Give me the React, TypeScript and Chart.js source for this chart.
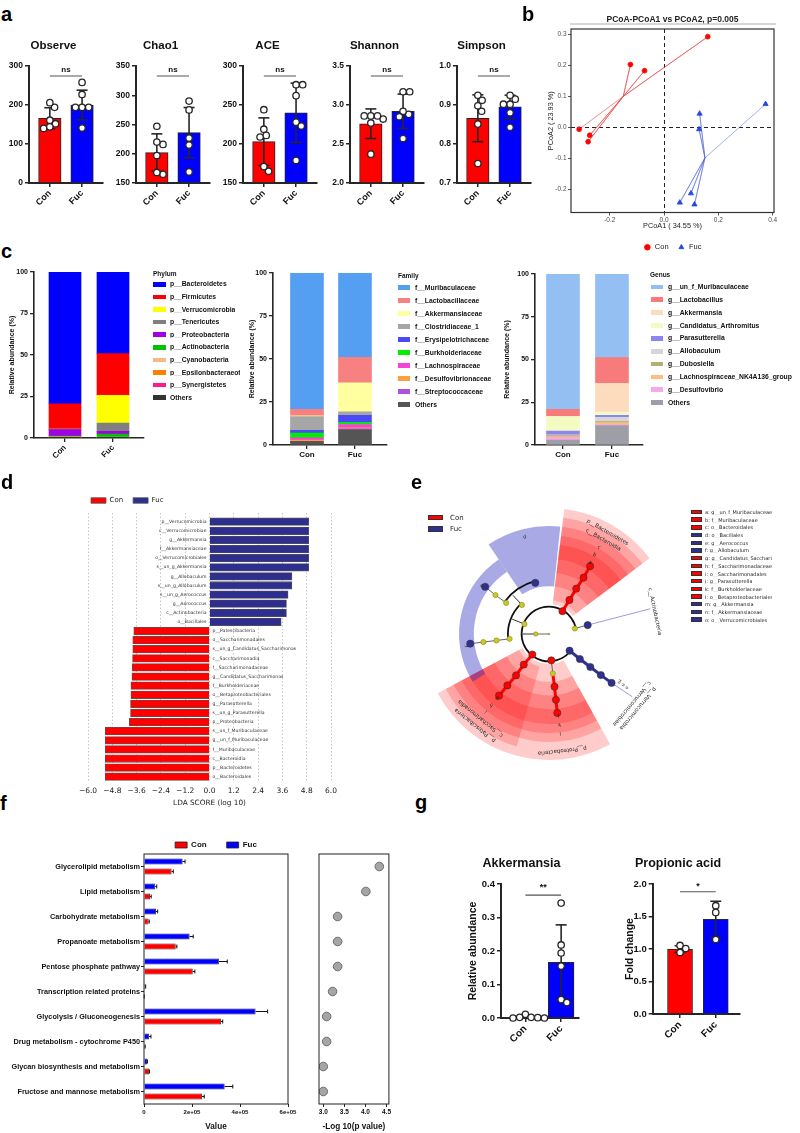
import React, { useEffect, useRef } from 'react';
import { Chart, registerables } from 'chart.js';

Chart.register(...registerables);

const SANS = "'Liberation Sans', Arial, sans-serif";
const DJ = "'DejaVu Sans', sans-serif";
const RED = '#ff0000';
const BLUE = '#0000ff';
const NAVY = '#2e3192';
const DARK = '#262626';

// ================= DATA =================
const groups = ['Con', 'Fuc'];

// a: alpha diversity
const alphaTitles = ['Observe', 'Chao1', 'ACE', 'Shannon', 'Simpson'];
const alphaTicks = [[0, 100, 200, 300], [150, 200, 250, 300, 350], [150, 200, 250, 300], [2.0, 2.5, 3.0, 3.5], [0.7, 0.8, 0.9, 1.0]];
const alphaDecimals = [0, 0, 0, 1, 1];
const observeCon = [194, 206, 161, 152, 140, 144];
const observeFuc = [258, 227, 194, 194, 194, 141];
const chao1Con = [247, 216, 220, 197, 165, 168];
const chao1Fuc = [290, 275, 227, 215, 169];
const aceCon = [244, 219, 211, 209, 165, 171];
const aceFuc = [276, 276, 262, 228, 223, 179];
const shannonCon = [2.82, 2.86, 2.86, 2.86, 2.77, 2.37];
const shannonFuc = [3.17, 3.17, 2.88, 2.92, 2.85, 2.57];
const simpsonCon = [0.925, 0.912, 0.898, 0.884, 0.851, 0.75];
const simpsonFuc = [0.915, 0.925, 0.902, 0.902, 0.88, 0.843];
const alphaMeans = [[166, 200], [202, 236], [203, 240], [2.76, 2.92], [0.866, 0.895]];
const alphaSD = [[27, 38], [32, 43], [30.5, 38], [0.19, 0.22], [0.06, 0.03]];
const alphaSig = ['ns', 'ns', 'ns', 'ns', 'ns'];

// b: PCoA
const pcoaConX = [-0.313, -0.274, -0.28, -0.124, -0.072, 0.161];
const pcoaConY = [-0.0065, -0.026, -0.047, 0.203, 0.183, 0.293];
const pcoaFucX = [0.374, 0.131, 0.129, 0.058, 0.099, 0.112];
const pcoaFucY = [0.075, 0.044, -0.0065, -0.244, -0.214, -0.25];
const pcoaXTicks = [-0.2, 0, 0.2, 0.4];
const pcoaYTicks = [-0.2, -0.1, 0, 0.1, 0.2, 0.3];

// c: composition
const abundTicks = [0, 25, 50, 75, 100];
const phylumNames = ['p__Bacteroidetes', 'p__Firmicutes', 'p__Verrucomicrobia', 'p__Tenericutes', 'p__Proteobacteria', 'p__Actinobacteria', 'p__Cyanobacteria', 'p__Epsilonbacteraeota', 'p__Synergistetes', 'Others'];
const phylumCon = [79.45, 15.2, 0.05, 0.3, 3.8, 0.5, 0.2, 0.3, 0.1, 0.1];
const phylumFuc = [49.2, 25.1, 16.7, 5.0, 1.6, 1.9, 0.1, 0.2, 0.1, 0.1];
const phylumColors = ['#0000ff', '#ff0000', '#ffff00', '#808080', '#a000e8', '#00c000', '#f5b889', '#ff8000', '#ff1a8c', '#333333'];
const familyNames = ['f__Muribaculaceae', 'f__Lactobacillaceae', 'f__Akkermansiaceae', 'f__Clostridiaceae_1', 'f__Erysipelotrichaceae', 'f__Burkholderiaceae', 'f__Lachnospiraceae', 'f__Desulfovibrionaceae', 'f__Streptococcaceae', 'Others'];
const familyCon = [79.2, 3.9, 0.4, 8.0, 1.5, 2.9, 1.2, 0.8, 0.0, 2.1];
const familyFuc = [49.0, 14.8, 16.9, 2.1, 4.1, 1.2, 1.9, 0.6, 0.6, 8.8];
const familyColors = ['#559ff2', '#f78080', '#ffffa0', '#a6a6a6', '#4b4bf5', '#00ee00', '#f542d7', '#ffa040', '#b050e0', '#555555'];
const genusNames = ['g__un_f_Muribaculaceae', 'g__Lactobacillus', 'g__Akkermansia', 'g__Candidatus_Arthromitus', 'g__Parasutterella', 'g__Allobaculum', 'g__Dubosiella', 'g__Lachnospiraceae_NK4A136_group', 'g__Desulfovibrio', 'Others'];
const genusCon = [79.1, 4.1, 0.2, 8.4, 2.3, 0.4, 0.6, 0.6, 1.4, 2.9];
const genusFuc = [48.9, 15.0, 16.8, 1.9, 1.2, 2.5, 0.6, 1.2, 0.6, 11.3];
const genusColors = ['#93bff3', '#f77b7b', '#fddcbd', '#f3fbc3', '#8c87f0', '#d6d6d6', '#b9ad74', '#fcbf7e', '#f6a8e8', '#9e9ea6'];

// d: LEfSe LDA
const ldaFeatures = ['p__Verrucomicrobia', 'c__Verrucomicrobiae', 'g__Akkermansia', 'f__Akkermansiaceae', 'o__Verrucomicrobiales', 's__un_g_Akkermansia', 'g__Allobaculum', 's__un_g_Allobaculum', 's__un_g_Aerococcus', 'g__Aerococcus', 'c__Actinobacteria', 'o__Bacillales', 'p__Patescibacteria', 'o__Saccharimonadales', 's__un_g_Candidatus_Saccharimonas', 'c__Saccharimonadia', 'f__Saccharimonadaceae', 'g__Candidatus_Saccharimonas', 'f__Burkholderiaceae', 'o__Betaproteobacteriales', 'g__Parasutterella', 's__un_g_Parasutterella', 'p__Proteobacteria', 's__un_f_Muribaculaceae', 'g__un_f_Muribaculaceae', 'f__Muribaculaceae', 'c__Bacteroidia', 'p__Bacteroidetes', 'o__Bacteroidales'];
const ldaScores = [4.9, 4.9, 4.9, 4.9, 4.9, 4.9, 4.07, 4.07, 3.88, 3.8, 3.8, 3.54, -3.74, -3.79, -3.79, -3.8, -3.82, -3.83, -3.88, -3.88, -3.9, -3.9, -3.96, -5.15, -5.15, -5.15, -5.15, -5.15, -5.15];
const ldaTicks = [-6, -4.8, -3.6, -2.4, -1.2, 0, 1.2, 2.4, 3.6, 4.8, 6];

// e: cladogram
const cladeNames = ['root', 'k__Bacteria', 'p__Bacteroidetes', 'p__Actinobacteria', 'p__Verrucomicrobia', 'p__Proteobacteria', 'p__Patescibacteria', 'p__Firmicutes', 'c__Bacteroidia', 'c__Actinobacteria', 'c__Verrucomicrobiae', 'c__Gammaproteobacteria', 'c__Saccharimonadia', 'c__Bacilli', 'c__Erysipelotrichia', 'o__Bacteroidales', 'o__Verrucomicrobiales', 'o__Betaproteobacteriales', 'o__Saccharimonadales', 'o__Bacillales', 'o__Lactobacillales', 'o__Erysipelotrichales', 'f__Muribaculaceae', 'f__Akkermansiaceae', 'f__Burkholderiaceae', 'f__Saccharimonadaceae', 'f__Aerococcaceae', 'f__Erysipelotrichaceae', 'g__un_f_Muribaculaceae', 'g__Akkermansia', 'g__Parasutterella', 'g__Candidatus_Saccharimonas', 'g__Aerococcus', 'g__Allobaculum'];
const cladeLevel = [0, 1, 2, 2, 2, 2, 2, 2, 3, 3, 3, 3, 3, 3, 3, 4, 4, 4, 4, 4, 4, 4, 5, 5, 5, 5, 5, 5, 6, 6, 6, 6, 6, 6];
const cladeAngle = [0, 180, 59.5, 12, 321, 275, 231, 158, 59, 13, 321, 275.5, 230.5, 133, 187, 59, 321.4, 276, 231.5, 105, 144, 187, 58.5, 321.6, 276, 231, 144, 187, 58.8, 322, 276, 231, 143.5, 187];
const cladeParent = [-1, 0, 1, 1, 1, 1, 1, 1, 2, 3, 4, 5, 6, 7, 7, 8, 10, 11, 12, 13, 13, 14, 15, 16, 17, 18, 20, 21, 22, 23, 24, 25, 26, 27];
const cladeGroup = ['', '', 'Con', '', 'Fuc', 'Con', 'Con', '', 'Con', 'Fuc', 'Fuc', '', 'Con', '', '', 'Con', 'Fuc', 'Con', 'Con', 'Fuc', '', '', 'Con', 'Fuc', 'Con', 'Con', '', '', 'Con', 'Fuc', 'Con', 'Con', 'Fuc', 'Fuc'];
const cladeShadeFrom = [NaN, NaN, 37, NaN, NaN, 254, 208, NaN, 37, NaN, NaN, NaN, 208, NaN, NaN, 37, NaN, 254, 208, 84, NaN, NaN, 37, NaN, 254, 208, NaN, NaN, 37, NaN, 254, 208, 124, 165];
const cladeShadeTo = [NaN, NaN, 83, NaN, NaN, 299, 254, NaN, 83, NaN, NaN, NaN, 254, NaN, NaN, 83, NaN, 299, 254, 124, NaN, NaN, 83, NaN, 299, 254, NaN, NaN, 83, NaN, 299, 254, 165, 212];
const cladeLetterNodes = [28, 22, 15, 19, 32, 33, 31, 25, 18, 30, 24, 17, 29, 23, 16];
const cladeLetters = 'abcdefghijklmno'.split('');

// f: PICRUSt pathways
const pathways = ['Glycerolipid metabolism', 'Lipid metabolism', 'Carbohydrate metabolism', 'Propanoate metabolism', 'Pentose phosphate pathway', 'Transcription related proteins', 'Glycolysis / Gluconeogenesis', 'Drug metabolism - cytochrome P450', 'Glycan biosynthesis and metabolism', 'Fructose and mannose metabolism'];
const pathwayFuc = [161000, 47000, 50000, 190000, 312000, 6000, 465000, 21000, 12500, 336000];
const pathwayFucErr = [10000, 6000, 7000, 15000, 35000, 1000, 50000, 8000, 2000, 34000];
const pathwayCon = [115000, 25000, 19000, 132000, 203000, 500, 321000, 4000, 21000, 242000];
const pathwayConErr = [7000, 5000, 3000, 5000, 9000, 300, 7000, 1000, 2000, 9000];
const pathwayLogP = [4.33, 4.01, 3.34, 3.34, 3.34, 3.22, 3.08, 3.08, 3.0, 3.0];
const valueTicks = [0, 200000, 400000, 600000];
const logPTicks = [3.0, 3.5, 4.0, 4.5];

// g: Akkermansia & propionic acid
const akkCon = [0.001, 0, 0, 0.011, 0.002, 0.002];
const akkFuc = [0.343, 0.218, 0.194, 0.155, 0.055, 0.046];
const akkMean = [0.003, 0.166];
const akkSD = [0.004, 0.112];
const akkTicks = [0, 0.1, 0.2, 0.3, 0.4];
const propCon = [1.055, 0.946, 1.008];
const propFuc = [1.666, 1.563, 1.147];
const propMean = [1.0, 1.455];
const propSD = [0.05, 0.28];
const propTicks = [0, 0.5, 1.0, 1.5, 2.0];

// ================= HELPERS =================
function swarm(vals: number[], yPx: number, xPx: number, d: number): number[] {
  const placed: number[][] = [];
  const out = vals.map(() => 0);
  const order = vals.map((_, i) => i).sort((a, b) => vals[b] - vals[a]);
  for (const i of order) {
    const y = vals[i] * yPx;
    for (let k = 0; k < 400; k++) {
      const m = Math.ceil(k / 2) * 0.5;
      const off = k % 2 === 1 ? m : -m;
      if (placed.every(p => Math.hypot(p[0] - off, p[1] - y) >= d)) {
        placed.push([off, y]);
        out[i] = off / xPx;
        break;
      }
    }
  }
  return out;
}

function textPlugin(items: any[]) {
  return {
    id: 'textMarks',
    afterDatasetsDraw(chart: any) {
      const ctx = chart.ctx;
      for (const it of items) {
        const xs = chart.scales[it.xAxis || 'x'];
        const ys = chart.scales[it.yAxis || 'y'];
        const px = xs.getPixelForValue(it.x) + (it.dx || 0);
        const py = ys.getPixelForValue(it.y) + (it.dy || 0);
        ctx.save();
        ctx.translate(px, py);
        if (it.rot) ctx.rotate((it.rot * Math.PI) / 180);
        ctx.font = it.font;
        ctx.fillStyle = it.color || '#111';
        ctx.textAlign = it.align || 'center';
        ctx.textBaseline = 'middle';
        ctx.fillText(it.text, 0, 0);
        ctx.restore();
      }
    },
  };
}

function framePlugin(color: string, lw: number) {
  return {
    id: 'frame',
    afterDraw(chart: any) {
      const { ctx, chartArea: a } = chart;
      ctx.save();
      ctx.strokeStyle = color;
      ctx.lineWidth = lw;
      ctx.strokeRect(a.left, a.top, a.right - a.left, a.bottom - a.top);
      ctx.restore();
    },
  };
}

function stripPlugin() {
  return {
    id: 'strip',
    afterDraw(chart: any) {
      const { ctx, chartArea: a } = chart;
      ctx.save();
      ctx.strokeStyle = '#b0b0b0';
      ctx.lineWidth = 1;
      ctx.beginPath();
      ctx.moveTo(a.left - 1, a.top - 5);
      ctx.lineTo(a.right + 2, a.top - 5);
      ctx.stroke();
      ctx.restore();
    },
  };
}

function hErrPlugin(errs: number[][]) {
  return {
    id: 'herr',
    afterDatasetsDraw(chart: any) {
      const ctx = chart.ctx;
      const xs = chart.scales.x;
      chart.data.datasets.forEach((ds: any, di: number) => {
        const meta = chart.getDatasetMeta(di);
        meta.data.forEach((bar: any, i: number) => {
          const v = ds.data[i];
          const x0 = xs.getPixelForValue(v);
          const x1 = xs.getPixelForValue(v + errs[di][i]);
          const y = bar.y;
          ctx.save();
          ctx.strokeStyle = '#111';
          ctx.lineWidth = 1;
          ctx.beginPath();
          ctx.moveTo(x0, y);
          ctx.lineTo(x1, y);
          ctx.moveTo(x1, y - 2);
          ctx.lineTo(x1, y + 2);
          ctx.stroke();
          ctx.restore();
        });
      });
    },
  };
}

const baseOpts = () => ({ responsive: false, animation: false, events: [] as any[] });
const noLegend = { legend: { display: false }, tooltip: { enabled: false } };

function ChartCanvas({ box, make }: any) {
  const ref = useRef<HTMLCanvasElement>(null);
  useEffect(() => {
    const chart = new Chart(ref.current as HTMLCanvasElement, make());
    return () => chart.destroy();
  }, []);
  return (
    <canvas
      ref={ref}
      width={box[2]}
      height={box[3]}
      style={{ position: 'absolute', left: box[0], top: box[1], width: box[2], height: box[3] }}
    />
  );
}

function Txt({ x, y, size, bold, family, color, children, maxW, anchor }: any) {
  return (
    <div
      style={{
        position: 'absolute',
        left: x,
        top: y,
        transform: `translate(${anchor === 'center' ? '-50%' : '0'}, -50%)`,
        fontSize: size,
        fontWeight: bold ? 700 : 400,
        fontFamily: family || SANS,
        color: color || '#111',
        whiteSpace: 'nowrap',
        lineHeight: 1,
        maxWidth: maxW,
        overflow: maxW ? 'hidden' : 'visible',
      }}
    >
      {children}
    </div>
  );
}

function PanelLetter({ x, y, ch }: any) {
  return (
    <div style={{ position: 'absolute', left: x, top: y, fontSize: 20, fontWeight: 700, fontFamily: SANS, lineHeight: 1, color: '#000' }}>{ch}</div>
  );
}

// ================= CONFIG BUILDERS =================
function dotBarConfig(s: any) {
  const yMin = s.ticks[0];
  const yMax = s.ticks[s.ticks.length - 1];
  const yPx = s.plotH / (yMax - yMin);
  const jc = swarm(s.con, yPx, s.pxPerX, 6.6);
  const jf = swarm(s.fuc, yPx, s.pxPerX, 6.6);
  const pts = [
    ...s.con.map((v: number, i: number) => ({ x: jc[i], y: v })),
    ...s.fuc.map((v: number, i: number) => ({ x: 1 + jf[i], y: v })),
  ];
  const ly = yMin + s.sigY * (yMax - yMin);
  const ty = yMin + s.sigTextY * (yMax - yMin);
  const tickFont = { family: SANS, size: s.tickSize, weight: 'bold' };
  const grid = { display: true, drawOnChartArea: false, drawTicks: true, tickLength: 4, color: DARK, lineWidth: 1.5, offset: false };
  const border = { display: true, color: DARK, width: 2 };
  return {
    type: 'bar',
    data: {
      datasets: [
        { type: 'scatter', data: pts, pointRadius: 3.2, pointBackgroundColor: '#ffffff', pointBorderColor: DARK, pointBorderWidth: 1.3, order: 0, clip: false },
        ...[0, 1].map(g => ({
          type: 'line',
          data: [{ x: g, y: s.means[g] - s.sds[g] }, { x: g, y: s.means[g] + s.sds[g] }],
          borderColor: DARK, borderWidth: 1.6, pointStyle: 'line', pointRadius: 5.5, pointBorderWidth: 1.6,
          pointBorderColor: DARK, pointBackgroundColor: DARK, order: 1,
        })),
        { type: 'line', data: [{ x: 0, y: ly }, { x: 1, y: ly }], borderColor: '#555', borderWidth: 1.1, pointRadius: 0, order: 1, clip: false },
        {
          type: 'bar', data: [{ x: 0, y: s.means[0] }, { x: 1, y: s.means[1] }], backgroundColor: [RED, BLUE],
          borderColor: DARK, borderWidth: 1, barThickness: s.barW, base: yMin, order: 2,
        },
      ],
    },
    options: {
      ...baseOpts(),
      layout: { padding: { left: 0, right: s.padR, top: 0, bottom: 0 } },
      plugins: {
        ...noLegend,
        title: {
          display: true, text: s.title, color: '#111',
          font: { family: SANS, size: s.titleSize, weight: 'bold', lineHeight: 1.2 },
          padding: { top: s.titlePad[0], bottom: s.titlePad[1] },
        },
      },
      scales: {
        x: {
          type: 'linear', min: s.xMin, max: s.xMax, offset: false,
          afterBuildTicks: (a: any) => { a.ticks = [{ value: 0 }, { value: 1 }]; },
          afterFit: (a: any) => { a.height = s.xH; },
          ticks: { callback: (v: any) => groups[v], font: { family: SANS, size: s.xSize, weight: 'bold' }, color: '#111', maxRotation: 45, minRotation: 45, autoSkip: false, padding: 1 },
          grid, border,
        },
        y: {
          type: 'linear', min: yMin, max: yMax,
          afterBuildTicks: (a: any) => { a.ticks = s.ticks.map((v: number) => ({ value: v })); },
          afterFit: (a: any) => { a.width = s.yW; },
          ticks: { callback: (v: any) => Number(v).toFixed(s.dec), font: tickFont, color: '#111', padding: 2 },
          grid, border,
          title: s.yTitle
            ? { display: true, text: s.yTitle, color: '#111', font: { family: SANS, size: s.yTitleSize, weight: 'bold', lineHeight: 1.2 }, padding: { top: s.yTitlePad, bottom: 0 } }
            : { display: false },
        },
      },
    },
    plugins: [textPlugin([{ x: 0.5, y: ty, text: s.sig, font: `bold ${s.sigSize}px ${SANS}` }])],
  };
}

function stackConfig(p: any) {
  const datasets = p.names
    .map((n: string, i: number) => ({
      type: 'bar', label: n, data: [{ x: 0, y: p.con[i] }, { x: 1, y: p.fuc[i] }],
      backgroundColor: p.colors[i], borderWidth: 0, barThickness: p.barW,
    }))
    .reverse();
  const grid = { display: true, drawOnChartArea: false, drawTicks: true, tickLength: 4, color: DARK, lineWidth: 1.3, offset: false };
  const border = { display: true, color: DARK, width: 1.6 };
  return {
    type: 'bar',
    data: { datasets },
    options: {
      ...baseOpts(),
      layout: { padding: { left: 4, top: 10, right: 2, bottom: 0 } },
      plugins: { ...noLegend },
      scales: {
        x: {
          type: 'linear', stacked: true, min: p.xMin, max: p.xMax, offset: false,
          afterBuildTicks: (a: any) => { a.ticks = [{ value: 0 }, { value: 1 }]; },
          afterFit: (a: any) => { a.height = p.xH; },
          ticks: { callback: (v: any) => groups[v], font: { family: SANS, size: 8, weight: 'bold' }, color: '#111', maxRotation: p.rot, minRotation: p.rot, autoSkip: false, padding: 1 },
          grid, border,
        },
        y: {
          type: 'linear', stacked: true, min: 0, max: 100,
          afterBuildTicks: (a: any) => { a.ticks = abundTicks.map(v => ({ value: v })); },
          afterFit: (a: any) => { a.width = p.yW; },
          ticks: { font: { family: SANS, size: 7, weight: 'bold' }, color: '#111', padding: 2 },
          grid, border,
          title: { display: true, text: 'Relative abundance (%)', color: '#111', font: { family: SANS, size: 7, weight: 'bold', lineHeight: 1.2 }, padding: { top: 4, bottom: 0 } },
        },
      },
    },
  };
}

function pcoaConfig() {
  const mean = (a: number[]) => a.reduce((s, v) => s + v, 0) / a.length;
  const star = (xs: number[], ys: number[]) => {
    const c = { x: mean(xs), y: mean(ys) };
    const out: any[] = [];
    xs.forEach((x, i) => { out.push({ x, y: ys[i] }); out.push(c); });
    return out;
  };
  const tickFont = { family: SANS, size: 6.5 };
  const gridCfg = {
    color: (ctx: any) => (ctx.tick && ctx.tick.value === 0 ? '#222' : 'rgba(0,0,0,0)'),
    tickColor: '#555', tickLength: 3, lineWidth: 1, drawOnChartArea: true,
  };
  return {
    type: 'scatter',
    data: {
      datasets: [
        {
          label: 'Con', data: star(pcoaConX, pcoaConY), showLine: true, borderColor: 'rgba(228,70,70,0.75)', borderWidth: 0.8,
          pointRadius: (ctx: any) => (ctx.dataIndex % 2 === 0 ? 2.4 : 0), pointStyle: 'circle',
          pointBackgroundColor: RED, pointBorderColor: RED, backgroundColor: RED,
        },
        {
          label: 'Fuc', data: star(pcoaFucX, pcoaFucY), showLine: true, borderColor: 'rgba(80,100,215,0.65)', borderWidth: 0.8,
          pointRadius: (ctx: any) => (ctx.dataIndex % 2 === 0 ? 3 : 0), pointStyle: 'triangle',
          pointBackgroundColor: '#2446e0', pointBorderColor: '#2446e0', backgroundColor: '#2446e0',
        },
      ],
    },
    options: {
      ...baseOpts(),
      layout: { padding: 0 },
      plugins: {
        tooltip: { enabled: false },
        title: { display: true, text: 'PCoA-PCoA1 vs PCoA2, p=0.005', color: '#222', font: { family: SANS, size: 8.5, lineHeight: 1.2 }, padding: { top: 8.9, bottom: 3.9 } },
        legend: { display: true, position: 'bottom', labels: { usePointStyle: true, boxHeight: 4, padding: 9, color: '#222', font: { family: SANS, size: 7.5 } } },
      },
      scales: {
        x: {
          type: 'linear', min: -0.343, max: 0.405,
          afterBuildTicks: (a: any) => { a.ticks = pcoaXTicks.map(v => ({ value: v })); },
          afterFit: (a: any) => { a.height = 22; },
          ticks: { callback: (v: any) => Number(v).toFixed(1), font: tickFont, color: '#4d4d4d', padding: 1, maxRotation: 0 },
          grid: gridCfg, border: { display: false, dash: [4, 3] },
          title: { display: true, text: 'PCoA1 ( 34.55 %)', color: '#222', font: { family: SANS, size: 7.3, lineHeight: 1.2 }, padding: { top: 0, bottom: 4.6 } },
        },
        y: {
          type: 'linear', min: -0.276, max: 0.318,
          afterBuildTicks: (a: any) => { a.ticks = pcoaYTicks.map(v => ({ value: v })); },
          afterFit: (a: any) => { a.width = 43; },
          ticks: { callback: (v: any) => Number(v).toFixed(1), font: tickFont, color: '#4d4d4d', padding: 1.5 },
          grid: gridCfg, border: { display: false, dash: [4, 3] },
          title: { display: true, text: 'PCoA2 ( 23.93 %)', color: '#222', font: { family: SANS, size: 7.3, lineHeight: 1.2 }, padding: { top: 18.7, bottom: 0 } },
        },
        y2: {
          type: 'linear', position: 'right', display: true,
          afterFit: (a: any) => { a.width = 43; },
          ticks: { display: false }, grid: { display: false }, border: { display: false },
        },
      },
    },
    plugins: [framePlugin('#333', 1.2), stripPlugin()],
  };
}

function ldaConfig() {
  const conData: any[] = [];
  const fucData: any[] = [];
  ldaScores.forEach((v, i) => (v < 0 ? conData : fucData).push({ x: v, y: i }));
  const labels = ldaFeatures.map((f, i) => ({
    x: 0, y: i, dx: ldaScores[i] > 0 ? -3 : 3, text: f, align: ldaScores[i] > 0 ? 'right' : 'left',
    font: `4.6px ${DJ}`, color: '#333',
  }));
  const fmt = (v: number) => (v < 0 ? '\u2212' : '') + Math.abs(v).toFixed(1);
  return {
    type: 'bar',
    data: {
      datasets: [
        { label: 'Con', data: conData, backgroundColor: RED, borderColor: '#555', borderWidth: 0.8, barThickness: 7.6, stack: 's' },
        { label: 'Fuc', data: fucData, backgroundColor: '#2e2e8e', borderColor: '#555', borderWidth: 0.8, barThickness: 7.6, stack: 's' },
      ],
    },
    options: {
      ...baseOpts(),
      indexAxis: 'y',
      layout: { padding: { left: 11, right: 12, top: 0, bottom: 0 } },
      plugins: {
        tooltip: { enabled: false },
        legend: {
          display: true, position: 'top', align: 'start', maxHeight: 26,
          labels: { boxWidth: 15, boxHeight: 5.5, padding: 10, color: '#222', font: { family: DJ, size: 7 } },
        },
      },
      scales: {
        y: {
          type: 'linear', reverse: true, min: -0.96, max: 28.58, stacked: true, offset: false,
          afterFit: (a: any) => { a.width = 7; },
          ticks: { display: false }, grid: { display: false, offset: false }, border: { display: false },
        },
        x: {
          type: 'linear', min: -6, max: 6, stacked: true,
          afterBuildTicks: (a: any) => { a.ticks = ldaTicks.map(v => ({ value: v })); },
          afterFit: (a: any) => { a.height = 28; },
          ticks: { callback: (v: any) => fmt(Number(v)), font: { family: DJ, size: 7.5 }, color: '#222', padding: 5, maxRotation: 0, minRotation: 0, autoSkip: false },
          grid: { display: true, drawOnChartArea: true, drawTicks: false, color: '#b8b8b8', lineWidth: 0.8 },
          border: { display: false, dash: [1.5, 2] },
          title: { display: true, text: 'LDA SCORE (log 10)', color: '#222', font: { family: DJ, size: 7.3, lineHeight: 1.2 }, padding: { top: 0, bottom: 2.6 } },
        },
      },
    },
    plugins: [textPlugin(labels)],
  };
}

// cladogram geometry helpers (style)
const CL_STEP = 13.7;
const clR = (l: number) => l * CL_STEP;
const clShadeInner = (l: number) => Math.max(clR(l) - 7, 30);
const clShadeOuter = (l: number) => 126 - (l - 2) * 9;
const polar = (a: number, r: number) => ({ x: r * Math.cos((a * Math.PI) / 180), y: r * Math.sin((a * Math.PI) / 180) });
const grpColor = (g: string) => (g === 'Con' ? RED : g === 'Fuc' ? NAVY : '#c9c92a');
const grpShade = (g: string) => (g === 'Con' ? 'rgba(255,0,0,0.2)' : 'rgba(40,40,190,0.4)');
const cladeChildren = cladeNames.map((_, i) => cladeParent.map((p, j) => (p === i ? j : -1)).filter(j => j >= 0));

function arcConfig(from: number, to: number, inner: number, outer: number, color: string) {
  const span = to - from;
  return {
    type: 'doughnut',
    data: { datasets: [{ data: [span, 360 - span], backgroundColor: [color, 'rgba(0,0,0,0)'], borderWidth: 0, hoverOffset: 0 }] },
    options: {
      ...baseOpts(),
      rotation: 90 - to, circumference: 360, radius: outer, cutout: `${(inner / outer) * 100}%`,
      layout: { padding: 0 },
      plugins: { ...noLegend },
    },
  };
}

function cladoScatterConfig() {
  const sig = (i: number) => cladeGroup[i] !== '';
  const datasets: any[] = [];
  cladeNames.forEach((_, i) => {
    const ch = cladeChildren[i];
    if (ch.length === 1) {
      const c = ch[0];
      const thick = sig(c) && (sig(i) || cladeChildren[c].length > 0);
      datasets.push({
        type: 'line', data: [polar(cladeAngle[i], clR(cladeLevel[i])), polar(cladeAngle[c], clR(cladeLevel[c]))],
        borderColor: thick ? grpColor(cladeGroup[c]) : '#555', borderWidth: thick ? 3 : 0.9, pointRadius: 0, order: 1,
      });
    } else if (ch.length > 1) {
      datasets.push({
        type: 'line', data: [polar(cladeAngle[i], clR(cladeLevel[i])), polar(cladeAngle[i], clR(cladeLevel[ch[0]]))],
        borderColor: '#333', borderWidth: 1, pointRadius: 0, order: 1,
      });
    }
    if (sig(i) && ch.length === 0 && isNaN(cladeShadeFrom[i])) {
      datasets.push({
        type: 'line', data: [polar(cladeAngle[i], clR(cladeLevel[i])), polar(cladeAngle[i] + 1, 108)],
        borderColor: '#8080dd', borderWidth: 0.8, pointRadius: 0, order: 1,
      });
    }
  });
  const nodeIdx = cladeNames.map((_, i) => i);
  datasets.push({
    type: 'scatter',
    data: nodeIdx.map(i => polar(cladeAngle[i], clR(cladeLevel[i]))),
    pointRadius: nodeIdx.map(i => (cladeLevel[i] === 0 ? 0.8 : cladeLevel[i] === 1 ? 2.2 : sig(i) ? 3.6 : 2.6)),
    pointBackgroundColor: nodeIdx.map(i => grpColor(cladeGroup[i])),
    pointBorderColor: nodeIdx.map(i => (sig(i) ? '#333' : '#8a8a1a')),
    pointBorderWidth: 0.6,
    order: 0,
  });
  const texts: any[] = [];
  nodeIdx.forEach(i => {
    if (!sig(i)) return;
    const lvl = cladeLevel[i];
    const li = cladeLetterNodes.indexOf(i);
    const txt = lvl <= 3 ? cladeNames[i] : li >= 0 ? cladeLetters[li] : '';
    if (!txt) return;
    if (!isNaN(cladeShadeFrom[i])) {
      const a = (cladeShadeFrom[i] + cladeShadeTo[i]) / 2;
      const r = clShadeOuter(lvl) - 4.5;
      texts.push({ ...polar(a, r), text: txt, rot: 90 - a, font: `${lvl <= 3 ? 5.5 : 5}px ${DJ}`, color: '#222' });
    } else {
      const r = lvl <= 3 ? 112 + (3 - lvl) * 8 : 88 + (6 - lvl) * 5;
      const a = cladeAngle[i] + (lvl <= 3 ? -1 : 4);
      texts.push({ ...polar(a, r), text: txt, rot: 90 - a, font: `${lvl <= 3 ? 5.5 : 4.5}px ${DJ}`, color: '#222' });
    }
  });
  return {
    type: 'scatter',
    data: { datasets },
    options: {
      ...baseOpts(),
      layout: { padding: 0 },
      plugins: { ...noLegend },
      scales: {
        x: { type: 'linear', min: -135, max: 135, display: false },
        y: { type: 'linear', min: -135, max: 135, display: false },
      },
    },
    plugins: [textPlugin(texts)],
  };
}

function pathwayBarConfig() {
  return {
    type: 'bar',
    data: {
      labels: pathways,
      datasets: [
        { label: 'Fuc', data: pathwayFuc, backgroundColor: BLUE, borderColor: '#222', borderWidth: 0.8, categoryPercentage: 0.8, barPercentage: 0.6 },
        { label: 'Con', data: pathwayCon, backgroundColor: RED, borderColor: '#222', borderWidth: 0.8, categoryPercentage: 0.8, barPercentage: 0.6 },
      ],
    },
    options: {
      ...baseOpts(),
      indexAxis: 'y',
      layout: { padding: 0 },
      plugins: {
        tooltip: { enabled: false },
        legend: {
          display: true, position: 'top', reverse: true, maxHeight: 33,
          labels: { boxWidth: 12, boxHeight: 6, padding: 20, color: '#111', font: { family: SANS, size: 8, weight: 'bold' } },
        },
      },
      scales: {
        y: {
          type: 'category', offset: true,
          afterFit: (a: any) => { a.width = 144; },
          ticks: { font: { family: SANS, size: 7.3, weight: 'bold' }, color: '#111', padding: 1, autoSkip: false },
          grid: { display: true, drawOnChartArea: false, tickLength: 3, color: '#222', offset: false },
          border: { display: false },
        },
        y2: {
          type: 'linear', position: 'right', display: true,
          afterFit: (a: any) => { a.width = 144; },
          ticks: { display: false }, grid: { display: false }, border: { display: false },
        },
        x: {
          type: 'linear', min: 0, max: 600000,
          afterBuildTicks: (a: any) => { a.ticks = valueTicks.map(v => ({ value: v })); },
          afterFit: (a: any) => { a.height = 29; },
          ticks: { callback: (v: any) => (Number(v) === 0 ? '0' : `${Number(v) / 100000}e+05`), font: { family: SANS, size: 6, weight: 'bold' }, color: '#111', padding: 1.5, maxRotation: 0 },
          grid: { display: true, drawOnChartArea: false, tickLength: 3, color: '#222' },
          border: { display: false },
          title: { display: true, text: 'Value', color: '#111', font: { family: SANS, size: 8.2, weight: 'bold', lineHeight: 1.2 }, padding: { top: 0, bottom: 1.5 } },
        },
      },
    },
    plugins: [framePlugin('#222', 1), hErrPlugin([pathwayFucErr, pathwayConErr])],
  };
}

function pathwayDotConfig() {
  return {
    type: 'scatter',
    data: {
      labels: pathways,
      datasets: [{
        data: pathways.map((p, i) => ({ x: pathwayLogP[i], y: p })),
        pointRadius: 4.3, pointBackgroundColor: '#a5a5a5', pointBorderColor: '#555', pointBorderWidth: 0.8,
      }],
    },
    options: {
      ...baseOpts(),
      layout: { padding: { top: 22, right: 5, left: 0, bottom: 0 } },
      plugins: { ...noLegend },
      scales: {
        y: {
          type: 'category', labels: pathways, offset: true,
          afterFit: (a: any) => { a.width = 19; },
          ticks: { display: false }, grid: { display: false }, border: { display: false },
        },
        x: {
          type: 'linear', min: 2.898, max: 4.557,
          afterBuildTicks: (a: any) => { a.ticks = logPTicks.map(v => ({ value: v })); },
          afterFit: (a: any) => { a.height = 29; },
          ticks: { callback: (v: any) => Number(v).toFixed(1), font: { family: SANS, size: 6.5, weight: 'bold' }, color: '#111', padding: 1.5, maxRotation: 0 },
          grid: { display: true, drawOnChartArea: false, tickLength: 3, color: '#222' },
          border: { display: false },
          title: { display: true, text: '-Log 10(p value)', color: '#111', font: { family: SANS, size: 8.2, weight: 'bold', lineHeight: 1.2 }, padding: { top: 0, bottom: 1.5 } },
        },
      },
    },
    plugins: [framePlugin('#222', 1)],
  };
}

// ================= COMPONENTS =================
function SideLegend({ title, names, colors, titleX, titleY, swX, swW, txtX, y0, dy, maxW }: any) {
  return (
    <>
      <Txt x={titleX} y={titleY} size={6.5} bold>{title}</Txt>
      {names.map((n: string, i: number) => (
        <React.Fragment key={n}>
          <div style={{ position: 'absolute', left: swX, top: y0 + i * dy - 2.4, width: swW, height: 4.8, background: colors[i] }} />
          <Txt x={txtX} y={y0 + i * dy} size={6.8} bold maxW={maxW}>{n}</Txt>
        </React.Fragment>
      ))}
    </>
  );
}

function Cladogram() {
  const box = [414, 499, 270, 270];
  const shades = cladeNames
    .map((_, i) => i)
    .filter(i => !isNaN(cladeShadeFrom[i]))
    .map(i => ({
      from: cladeShadeFrom[i], to: cladeShadeTo[i],
      inner: clShadeInner(cladeLevel[i]), outer: clShadeOuter(cladeLevel[i]), color: grpShade(cladeGroup[i]),
    }));
  const arcs = cladeNames
    .map((_, i) => i)
    .filter(i => cladeChildren[i].length > 1)
    .map(i => {
      const angs = cladeChildren[i].map(c => cladeAngle[c]);
      const r = clR(cladeLevel[i] + 1);
      return { from: Math.min(...angs), to: Math.max(...angs), inner: r - 0.9, outer: r + 0.9, color: '#111' };
    });
  return (
    <>
      {shades.map((s, i) => (
        <ChartCanvas key={'sh' + i} box={box} make={() => arcConfig(s.from, s.to, s.inner, s.outer, s.color)} />
      ))}
      {arcs.map((s, i) => (
        <ChartCanvas key={'arc' + i} box={box} make={() => arcConfig(s.from, s.to, s.inner, s.outer, s.color)} />
      ))}
      <ChartCanvas box={box} make={cladoScatterConfig} />
    </>
  );
}

export default function App() {
  const alphaPts = [[observeCon, observeFuc], [chao1Con, chao1Fuc], [aceCon, aceFuc], [shannonCon, shannonFuc], [simpsonCon, simpsonFuc]];
  return (
    <div style={{ position: 'absolute', left: 0, top: 0, width: 800, height: 1133, overflow: 'hidden', background: '#fff' }}>
      {/* panel a */}
      {alphaTitles.map((t, i) => (
        <ChartCanvas
          key={t}
          box={[107 * i, 30, 110, 177]}
          make={() => dotBarConfig({
            means: alphaMeans[i], sds: alphaSD[i], con: alphaPts[i][0], fuc: alphaPts[i][1],
            ticks: alphaTicks[i], dec: alphaDecimals[i], title: t, titleSize: 11.5, titlePad: [9.1, 13.1],
            xMin: -0.647, xMax: 1.647, yW: 29, xH: 24, padR: 3, tickSize: 8.5, xSize: 9, barW: 22.5,
            sig: alphaSig[i], sigY: 0.915, sigTextY: 0.965, sigSize: 8, plotH: 117, pxPerX: 34,
          })}
        />
      ))}
      {/* panel b */}
      <ChartCanvas box={[528, 6, 289, 255]} make={pcoaConfig} />
      {/* panel c */}
      <ChartCanvas box={[0, 262, 146, 198]} make={() => stackConfig({ names: phylumNames, con: phylumCon, fuc: phylumFuc, colors: phylumColors, xMin: -0.646, xMax: 1.646, yW: 30, xH: 22, rot: 45, barW: 32 })} />
      <ChartCanvas box={[240, 263, 149, 196]} make={() => stackConfig({ names: familyNames, con: familyCon, fuc: familyFuc, colors: familyColors, xMin: -0.708, xMax: 1.667, yW: 29, xH: 14, rot: 0, barW: 33 })} />
      <ChartCanvas box={[495, 264, 150, 195]} make={() => stackConfig({ names: genusNames, con: genusCon, fuc: genusFuc, colors: genusColors, xMin: -0.571, xMax: 1.633, yW: 36, xH: 14, rot: 0, barW: 33 })} />
      <SideLegend title="Phylum" names={phylumNames} colors={phylumColors} titleX={153} titleY={274} swX={153.3} swW={12.4} txtX={170} y0={284.3} dy={12.6} maxW={70} />
      <SideLegend title="Family" names={familyNames} colors={familyColors} titleX={398} titleY={275.7} swX={398.3} swW={11.7} txtX={415} y0={287.7} dy={13.0} />
      <SideLegend title="Genus" names={genusNames} colors={genusColors} titleX={650} titleY={275} swX={651} swW={12} txtX={668} y0={287} dy={12.85} />
      {/* panel d */}
      <ChartCanvas box={[70, 487, 273, 323]} make={ldaConfig} />
      {/* panel e */}
      <Cladogram />
      <div style={{ position: 'absolute', left: 428.3, top: 517.7 - 2.7, width: 15, height: 5.4, background: RED, border: '0.6px solid #333', boxSizing: 'border-box' }} />
      <div style={{ position: 'absolute', left: 428.3, top: 529 - 2.7, width: 15, height: 5.4, background: NAVY, border: '0.6px solid #333', boxSizing: 'border-box' }} />
      <Txt x={450} y={517.7} size={7} family={DJ} color="#222">Con</Txt>
      <Txt x={450} y={529} size={7} family={DJ} color="#222">Fuc</Txt>
      {cladeLetterNodes.map((n, i) => (
        <React.Fragment key={'lg' + i}>
          <div style={{ position: 'absolute', left: 691, top: 512 + i * 7.69 - 2.2, width: 10.7, height: 4.4, background: grpColor(cladeGroup[n]), border: '0.5px solid #333', boxSizing: 'border-box' }} />
          <Txt x={705} y={512 + i * 7.69} size={5} family={DJ} color="#222" maxW={67}>{`${cladeLetters[i]}: ${cladeNames[n]}`}</Txt>
        </React.Fragment>
      ))}
      {/* panel f */}
      <ChartCanvas box={[300, 832, 94, 301]} make={pathwayDotConfig} />
      <ChartCanvas box={[0, 821, 432, 312]} make={pathwayBarConfig} />
      {/* panel g */}
      <ChartCanvas
        box={[460, 840, 126, 208]}
        make={() => dotBarConfig({
          means: akkMean, sds: akkSD, con: akkCon, fuc: akkFuc, ticks: akkTicks, dec: 1, title: 'Akkermansia', titleSize: 12.5,
          titlePad: [16.5, 12.5], xMin: -0.683, xMax: 1.497, yW: 41, xH: 30, padR: 3, tickSize: 9.5, xSize: 10, barW: 25.7,
          sig: '**', sigY: 0.917, sigTextY: 0.975, sigSize: 9, plotH: 134, pxPerX: 37.6,
          yTitle: 'Relative abundance', yTitleSize: 10.5, yTitlePad: 6.7,
        })}
      />
      <ChartCanvas
        box={[612, 840, 135, 204]}
        make={() => dotBarConfig({
          means: propMean, sds: propSD, con: propCon, fuc: propFuc, ticks: propTicks, dec: 1, title: 'Propionic acid', titleSize: 12.5,
          titlePad: [16.5, 12.5], xMin: -0.765, xMax: 1.676, yW: 40.7, xH: 30, padR: 3, tickSize: 9.5, xSize: 10, barW: 25,
          sig: '*', sigY: 0.94, sigTextY: 0.98, sigSize: 9, plotH: 129.7, pxPerX: 37.4,
          yTitle: 'Fold change', yTitleSize: 10.5, yTitlePad: 11.7,
        })}
      />
      {/* panel letters */}
      <PanelLetter x={1} y={4} ch="a" />
      <PanelLetter x={522} y={4} ch="b" />
      <PanelLetter x={1} y={241} ch="c" />
      <PanelLetter x={1} y={472} ch="d" />
      <PanelLetter x={411} y={472} ch="e" />
      <PanelLetter x={0} y={793} ch="f" />
      <PanelLetter x={415} y={792} ch="g" />
    </div>
  );
}
